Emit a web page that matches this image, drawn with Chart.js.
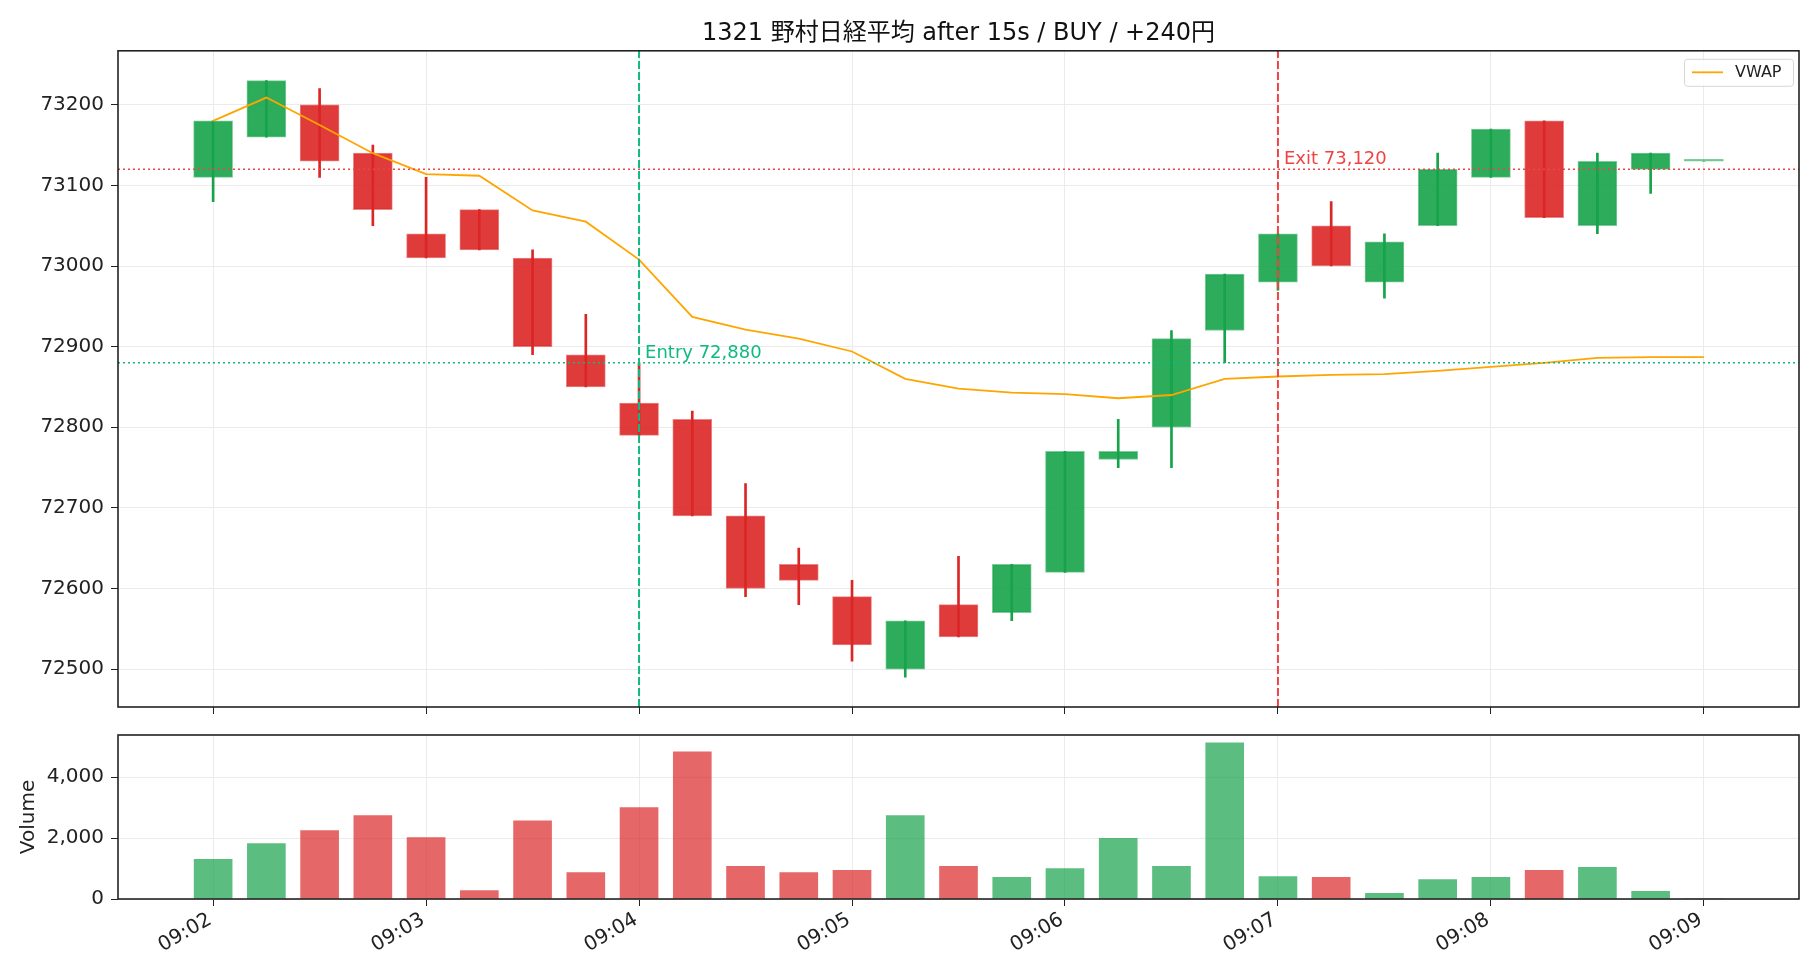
<!DOCTYPE html>
<html>
<head>
<meta charset="utf-8">
<script src="https://cdn.jsdelivr.net/npm/chart.js@4.4.0/dist/chart.umd.min.js"></script>
<style>
  html, body { margin: 0; padding: 0; background: #fff; }
  body { width: 1820px; height: 980px; position: relative; overflow: hidden; }
  #priceChart { position: absolute; left: 0; top: 0; }
  #volChart { position: absolute; left: 0; top: 720px; }
</style>
</head>
<body>
<canvas id="priceChart" width="1820" height="720"></canvas>
<canvas id="volChart" width="1820" height="260"></canvas>
<script>
// bar start, seconds after 09:02:00 (15s bars)
const times = [0, 15, 30, 45, 60, 75, 90, 105, 120, 135, 150, 165, 180, 195, 210,
  225, 240, 255, 270, 285, 300, 315, 330, 345, 360, 375, 390, 405, 420];
const opens = [73110, 73160, 73200, 73140, 73040, 73070, 73010, 72890, 72830, 72810,
  72690, 72630, 72590, 72500, 72580, 72570, 72620, 72760, 72800, 72920,
  72980, 73050, 72980, 73050, 73110, 73180, 73050, 73120, 73130];
const highs = [73180, 73230, 73220, 73150, 73110, 73070, 73020, 72940, 72880, 72820,
  72730, 72650, 72610, 72560, 72640, 72630, 72770, 72810, 72920, 72990,
  73040, 73080, 73040, 73140, 73170, 73180, 73140, 73140, 73130];
const lows = [73080, 73160, 73110, 73050, 73010, 73020, 72890, 72850, 72790, 72690,
  72590, 72580, 72510, 72490, 72540, 72560, 72620, 72750, 72750, 72880,
  72970, 73000, 72960, 73050, 73110, 73060, 73040, 73090, 73130];
const closes = [73180, 73230, 73130, 73070, 73010, 73020, 72900, 72850, 72790, 72690,
  72600, 72610, 72530, 72560, 72540, 72630, 72770, 72770, 72910, 72990,
  73040, 73000, 73030, 73120, 73170, 73060, 73130, 73140, 73130];
const volumes = [1300, 1820, 2250, 2740, 2020, 280, 2570, 870, 3000, 4830,
  1070, 870, 940, 2740, 1070, 710, 1000, 1990, 1070, 5130,
  740, 710, 190, 640, 710, 940, 1040, 250, 0];
const vwap = [73180, 73209, 73175, 73140, 73114, 73112, 73069, 73055, 73008, 72937,
  72921, 72910, 72894, 72860, 72848, 72843, 72841, 72836, 72840, 72860,
  72863, 72865, 72866, 72870, 72875, 72880, 72886, 72887, 72887];

const tickSecs = [0, 60, 120, 180, 240, 300, 360, 420];
const tickLabels = ['09:02', '09:03', '09:04', '09:05', '09:06', '09:07', '09:08', '09:09'];
const priceTicks = [72500, 72600, 72700, 72800, 72900, 73000, 73100, 73200];
const volTicks = [0, 2000, 4000];

const entryTime = 120, entryPrice = 72880;
const exitTime = 300, exitPrice = 73120;
const titleText = '1321 野村日経平均 after 15s / BUY / +240円';

const xMin = -26.8, xMax = 446.8;
const pLo = Math.min(...lows), pHi = Math.max(...highs);
const yMin = pLo - (pHi - pLo) * 0.05, yMax = pHi + (pHi - pLo) * 0.05;
const volMax = Math.max(...volumes) * 1.05;

const GREEN = '22,163,74', RED = '220,38,38';
const ENTRY_C = '#10b981', EXIT_C = '#ef4444';
const up = closes.map((c, i) => c >= opens[i]);

Chart.defaults.font.family = '"DejaVu Sans", "Noto Sans CJK JP", sans-serif';
Chart.defaults.color = '#222';

const gridOpts = { color: '#ebebeb', tickColor: '#222', tickLength: 7, lineWidth: 1 };

// fixed axis sizes so both panels line up; drop the label overhang padding
const fixSize = (w, h) => s => {
  if (w != null) s.width = w;
  if (h != null) s.height = h;
  s.paddingTop = 0; s.paddingBottom = 0;
  s.paddingLeft = 0; s.paddingRight = 0;
};

const framePlugin = {
  id: 'frame',
  afterDraw(chart) {
    const { ctx, chartArea: a } = chart;
    ctx.save();
    ctx.strokeStyle = '#222';
    ctx.lineWidth = 1.6;
    ctx.strokeRect(a.left, a.top, a.right - a.left, a.bottom - a.top);
    ctx.restore();
  }
};

const notesPlugin = {
  id: 'notes',
  afterDatasetsDraw(chart) {
    const { ctx, scales: { x, y } } = chart;
    ctx.save();
    ctx.font = '18px "DejaVu Sans"';
    ctx.textBaseline = 'alphabetic';
    ctx.fillStyle = ENTRY_C;
    ctx.fillText('Entry ' + entryPrice.toLocaleString('en-US'),
      x.getPixelForValue(entryTime) + 6, y.getPixelForValue(entryPrice) - 5);
    ctx.fillStyle = EXIT_C;
    ctx.fillText('Exit ' + exitPrice.toLocaleString('en-US'),
      x.getPixelForValue(exitTime) + 6, y.getPixelForValue(exitPrice) - 5);
    ctx.restore();
  },
  afterDraw(chart) {
    // legend box in upper right of the plot
    const { ctx, chartArea: a } = chart;
    const w = 109, h = 27;
    const left = a.right - 6 - w, top = a.top + 8;
    ctx.save();
    ctx.beginPath();
    ctx.roundRect(left + 0.5, top + 0.5, w, h, 3);
    ctx.fillStyle = 'rgba(255,255,255,0.85)';
    ctx.fill();
    ctx.strokeStyle = '#d6d6d6';
    ctx.lineWidth = 1;
    ctx.stroke();
    ctx.beginPath();
    ctx.moveTo(left + 8, top + h / 2);
    ctx.lineTo(left + 39, top + h / 2);
    ctx.strokeStyle = 'orange';
    ctx.lineWidth = 1.8;
    ctx.stroke();
    ctx.font = '16px "DejaVu Sans"';
    ctx.fillStyle = '#222';
    ctx.textBaseline = 'middle';
    ctx.fillText('VWAP', left + 51, top + h / 2 + 1);
    ctx.restore();
  }
};

const pts = arr => times.map((t, i) => ({ x: t, y: arr[i] }));

new Chart(document.getElementById('priceChart'), {
  type: 'bar',
  data: {
    datasets: [
      {
        label: 'wick',
        data: times.map((t, i) => ({ x: t, y: [lows[i], highs[i]] })),
        backgroundColor: up.map(u => `rgb(${u ? GREEN : RED})`),
        barThickness: 2,
        grouped: false,
        order: 5
      },
      {
        label: 'body',
        data: times.map((t, i) => ({ x: t, y: [opens[i], closes[i]] })),
        backgroundColor: up.map(u => `rgba(${u ? GREEN : RED},0.9)`),
        borderColor: up.map(u => `rgba(${u ? GREEN : RED},0.55)`),
        borderWidth: 1,
        borderSkipped: false,
        barThickness: 39,
        minBarLength: 2,
        grouped: false,
        order: 4
      },
      {
        type: 'line',
        label: 'VWAP',
        data: pts(vwap),
        borderColor: 'orange',
        borderWidth: 1.8,
        pointRadius: 0,
        tension: 0,
        order: 2
      },
      {
        type: 'line',
        data: [{ x: xMin, y: entryPrice }, { x: xMax, y: entryPrice }],
        borderColor: ENTRY_C, borderWidth: 1.5, borderDash: [2, 3], pointRadius: 0, order: 1
      },
      {
        type: 'line',
        data: [{ x: xMin, y: exitPrice }, { x: xMax, y: exitPrice }],
        borderColor: EXIT_C, borderWidth: 1.5, borderDash: [2, 3], pointRadius: 0, order: 1
      },
      {
        type: 'line',
        data: [{ x: entryTime, y: yMin }, { x: entryTime, y: yMax }],
        borderColor: ENTRY_C, borderWidth: 2, borderDash: [8, 3], pointRadius: 0, order: 1
      },
      {
        type: 'line',
        data: [{ x: exitTime, y: yMin }, { x: exitTime, y: yMax }],
        borderColor: EXIT_C, borderWidth: 2, borderDash: [8, 3], pointRadius: 0, order: 1
      }
    ]
  },
  options: {
    responsive: false,
    animation: false,
    devicePixelRatio: 1,
    layout: { padding: { left: 0, right: 21, top: 0, bottom: 0 } },
    plugins: {
      legend: { display: false },
      tooltip: { enabled: false },
      title: {
        display: true,
        text: titleText,
        fullSize: false,
        color: '#111',
        font: { size: 24, weight: 'normal', family: '"DejaVu Sans", "Noto Sans CJK JP", sans-serif' },
        padding: { top: 19, bottom: 3 }
      }
    },
    scales: {
      x: {
        type: 'linear',
        min: xMin,
        max: xMax,
        offset: false,
        afterBuildTicks: s => { s.ticks = tickSecs.map(v => ({ value: v })); },
        ticks: { display: false },
        grid: { ...gridOpts, offset: false },
        border: { display: false },
        afterFit: fixSize(null, 13)
      },
      y: {
        min: yMin,
        max: yMax,
        afterBuildTicks: s => { s.ticks = priceTicks.map(v => ({ value: v })); },
        ticks: { font: { size: 20 }, padding: 7, callback: v => String(v) },
        grid: gridOpts,
        border: { display: false },
        afterFit: fixSize(118, null)
      }
    }
  },
  plugins: [notesPlugin, framePlugin]
});

new Chart(document.getElementById('volChart'), {
  type: 'bar',
  data: {
    datasets: [{
      label: 'Volume',
      data: pts(volumes),
      backgroundColor: up.map(u => `rgba(${u ? GREEN : RED},0.7)`),
      barThickness: 38,
      grouped: false
    }]
  },
  options: {
    responsive: false,
    animation: false,
    devicePixelRatio: 1,
    layout: { padding: { left: 0, right: 21, top: 15, bottom: 0 } },
    plugins: { legend: { display: false }, tooltip: { enabled: false } },
    scales: {
      x: {
        type: 'linear',
        min: xMin,
        max: xMax,
        offset: false,
        afterBuildTicks: s => { s.ticks = tickSecs.map(v => ({ value: v })); },
        ticks: {
          font: { size: 20 },
          autoSkip: false,
          minRotation: 30,
          maxRotation: 30,
          padding: 2,
          labelOffset: -3,
          callback: (v, i) => tickLabels[i]
        },
        grid: { ...gridOpts, offset: false },
        border: { display: false },
        afterFit: fixSize(null, 81)
      },
      y: {
        min: 0,
        max: volMax,
        afterBuildTicks: s => { s.ticks = volTicks.map(v => ({ value: v })); },
        ticks: { font: { size: 20 }, padding: 7, callback: v => v.toLocaleString('en-US') },
        grid: gridOpts,
        border: { display: false },
        title: { display: true, text: 'Volume', font: { size: 20 }, padding: { top: 17 } },
        afterFit: fixSize(118, null)
      }
    }
  },
  plugins: [framePlugin]
});
</script>
</body>
</html>
